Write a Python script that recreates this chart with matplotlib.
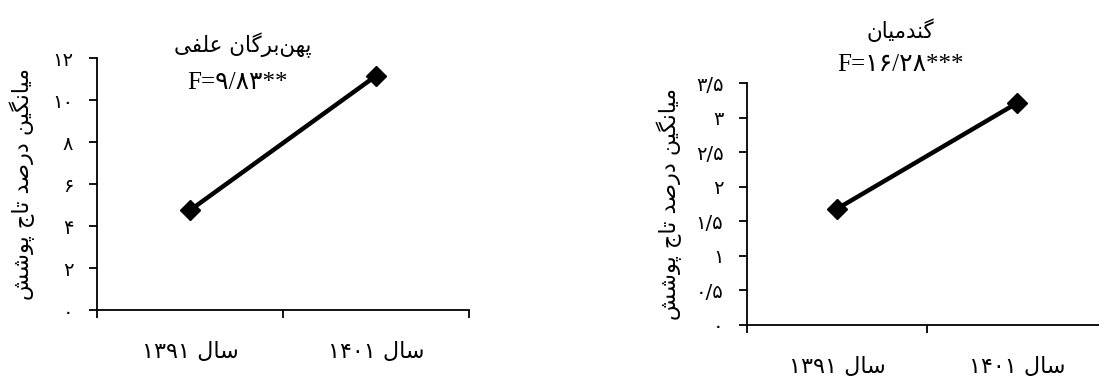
import matplotlib
matplotlib.use("Agg")
import matplotlib.pyplot as plt

# ---------------- data ----------------
categories = ["سال ۱۳۹۱", "سال ۱۴۰۱"]
forbs_values = [4.75, 11.15]
grass_values = [1.68, 3.21]
forbs_title = "پهن‌برگان علفی"
grass_title = "گندمیان"
forbs_stat = "F=۹/۸۳**"
grass_stat = "F=۱۶/۲۸***"
ylabel_text = "میانگین درصد تاج پوشش"
forbs_yticks = [0, 2, 4, 6, 8, 10, 12]
forbs_yticklabels = ["۰", "۲", "۴", "۶", "۸", "۱۰", "۱۲"]
grass_yticks = [0, 0.5, 1, 1.5, 2, 2.5, 3, 3.5]
grass_yticklabels = ["۰", "۰/۵", "۱", "۱/۵", "۲", "۲/۵", "۳", "۳/۵"]

# ---------------- simple Arabic/Persian shaping ----------------
FORMS = {
    "\u0627": (0xFE8D, 0xFE8E, None, None),
    "\u0628": (0xFE8F, 0xFE90, 0xFE91, 0xFE92),
    "\u062A": (0xFE95, 0xFE96, 0xFE97, 0xFE98),
    "\u062C": (0xFE9D, 0xFE9E, 0xFE9F, 0xFEA0),
    "\u062F": (0xFEA9, 0xFEAA, None, None),
    "\u0631": (0xFEAD, 0xFEAE, None, None),
    "\u0633": (0xFEB1, 0xFEB2, 0xFEB3, 0xFEB4),
    "\u0634": (0xFEB5, 0xFEB6, 0xFEB7, 0xFEB8),
    "\u0635": (0xFEB9, 0xFEBA, 0xFEBB, 0xFEBC),
    "\u0639": (0xFEC9, 0xFECA, 0xFECB, 0xFECC),
    "\u0641": (0xFED1, 0xFED2, 0xFED3, 0xFED4),
    "\u0644": (0xFEDD, 0xFEDE, 0xFEDF, 0xFEE0),
    "\u0645": (0xFEE1, 0xFEE2, 0xFEE3, 0xFEE4),
    "\u0646": (0xFEE5, 0xFEE6, 0xFEE7, 0xFEE8),
    "\u0647": (0xFEE9, 0xFEEA, 0xFEEB, 0xFEEC),
    "\u0648": (0xFEED, 0xFEEE, None, None),
    "\u06CC": (0xFBFC, 0xFBFD, 0xFBFE, 0xFBFF),
    "\u067E": (0xFB56, 0xFB57, 0xFB58, 0xFB59),
    "\u06AF": (0xFB92, 0xFB93, 0xFB94, 0xFB95),
}


def dual(c):
    return c in FORMS and FORMS[c][2] is not None


def joins(c):
    return c in FORMS


def shape_word(s):
    out = []
    n = len(s)
    for i, c in enumerate(s):
        if c not in FORMS:
            if c != "\u200c":
                out.append(c)
            continue
        prev = s[i - 1] if i > 0 else ""
        nxt = s[i + 1] if i + 1 < n else ""
        jp = dual(prev)
        jn = dual(c) and joins(nxt)
        iso, fin, ini, med = FORMS[c]
        if jp and jn:
            g = med
        elif jp:
            g = fin
        elif jn:
            g = ini
        else:
            g = iso
        out.append(chr(g))
    return "".join(out)


def rtl(s):
    # shape and reverse into visual order (digit runs kept LTR)
    words = s.split(" ")
    vis = []
    for w in words:
        if w and all("\u06F0" <= ch <= "\u06F9" for ch in w):
            vis.append(w)
        else:
            vis.append(shape_word(w)[::-1])
    return " ".join(vis[::-1])


AR_FONT = ["DejaVu Sans"]
STAT_FONT = ["Liberation Serif", "DejaVu Sans"]

W, H = 1099, 377
fig = plt.figure(figsize=(W / 100, H / 100), dpi=100)


def px_ax(x0, x1, ytop, ybot):
    return [x0 / W, 1 - ybot / H, (x1 - x0) / W, (ybot - ytop) / H]


def make_panel(rect, values, yticks, yticklabels, ylab_x):
    ax = fig.add_axes(rect)
    xpos = [0.5, 1.5]
    ax.plot(xpos, values, color="black", lw=3.2, marker="D", markersize=10,
            markerfacecolor="black", markeredgecolor="black", solid_capstyle="butt")
    ax.set_xlim(0, 2)
    ax.set_ylim(yticks[0], yticks[-1])
    for s in ["top", "right"]:
        ax.spines[s].set_visible(False)
    for s in ["left", "bottom"]:
        ax.spines[s].set_linewidth(1.3)
        ax.spines[s].set_color("black")
    ax.set_xticks([0, 1, 2])
    ax.set_xticklabels([])
    ax.set_xticks(xpos, minor=True)
    ax.set_xticklabels([rtl(c) for c in categories], minor=True,
                       fontsize=16, family=AR_FONT)
    ax.tick_params(axis="x", which="major", direction="out", length=6, width=1.3)
    ax.tick_params(axis="x", which="minor", length=0, pad=23)
    ax.set_yticks(yticks)
    ax.set_yticklabels(yticklabels, fontsize=14, family=AR_FONT)
    ax.tick_params(axis="y", direction="out", length=6, width=1.3, pad=11)
    ax.set_ylabel(rtl(ylabel_text), fontsize=16, family=AR_FONT)
    ax.yaxis.set_label_coords(ylab_x, 0.5)
    return ax


axL = make_panel(px_ax(97, 469, 58, 310), forbs_values, forbs_yticks,
                 forbs_yticklabels, -0.167)
axR = make_panel(px_ax(747, 1107, 83, 325), grass_values, grass_yticks,
                 grass_yticklabels, -0.18)

fig.text(243 / W, 1 - 45 / H, rtl(forbs_title), ha="center", va="center",
         fontsize=15.5, family=AR_FONT)
fig.text(237 / W, 1 - 83 / H, forbs_stat, ha="center", va="center",
         fontsize=18, family=STAT_FONT)
fig.text(900 / W, 1 - 30 / H, rtl(grass_title), ha="center", va="center",
         fontsize=15.5, family=AR_FONT)
fig.text(900 / W, 1 - 65 / H, grass_stat, ha="center", va="center",
         fontsize=18, family=STAT_FONT)

fig.savefig("out.png", dpi=100, facecolor="white")
